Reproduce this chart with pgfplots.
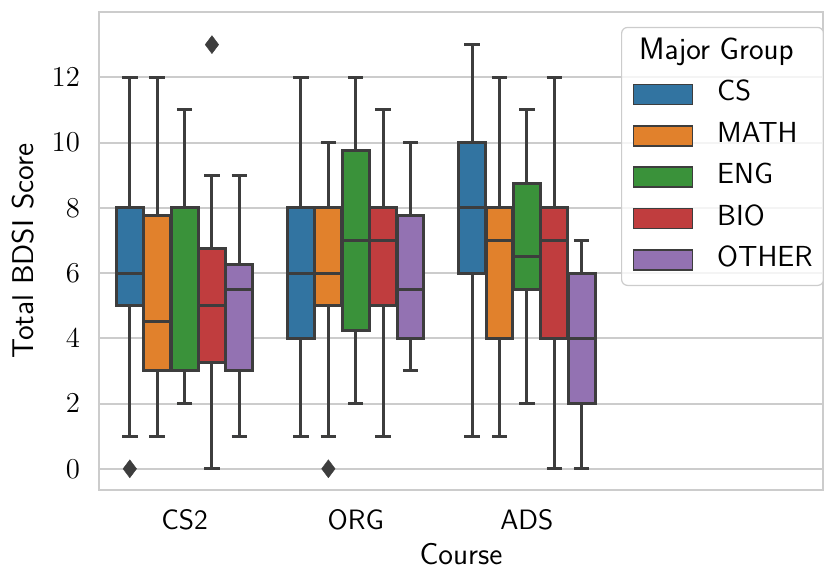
\documentclass[border=0pt]{standalone}
\usepackage{pgfplots}
\pgfplotsset{compat=1.18}
\usepgfplotslibrary{statistics}
\definecolor{cCS}{RGB}{50,116,161}
\definecolor{cMA}{RGB}{225,129,44}
\definecolor{cEN}{RGB}{58,146,58}
\definecolor{cBI}{RGB}{192,61,62}
\definecolor{cOT}{RGB}{147,114,178}
\definecolor{dk}{RGB}{61,61,61}
\definecolor{gr}{RGB}{204,204,204}
\pgfplotsset{
  bx/.style n args={7}{forget plot,
    boxplot prepared={draw direction=y, draw position=#1, lower whisker=#2, lower quartile=#3,
      median=#4, upper quartile=#5, upper whisker=#6,
      box extend=0.157, whisker extend=0.09},
    draw=dk, fill=#7, line width=1.5pt,
    mark=diamond*, mark size=4.5pt, mark options={fill=dk, draw=dk, line width=0.2pt}},
  legbox/.style={legend image code/.code={\draw[##1,draw=dk,line width=0.8pt,sharp corners,fill opacity=1] (0pt,-5pt) rectangle (29.5pt,5pt);}}
}
\begin{document}
\begin{tikzpicture}
\begin{axis}[
  scale only axis, width=362pt, height=239pt,
  at={(0,0)}, anchor=south west,
  xmin=-0.5, xmax=3.73, ymin=-0.65, ymax=14,
  xtick={0,1,2}, xticklabels={CS2,ORG,ADS},
  ytick={0,2,...,12},
  major tick length=0pt,
  ymajorgrids, major grid style={gr, line width=1pt},
  axis line style={gr, line width=1.25pt},
  yticklabel style={font=\fontsize{14}{17}\selectfont, xshift=-6pt},
  xticklabel style={font=\fontsize{14}{17}\selectfont\sffamily, anchor=center, yshift=-15pt},
  ylabel={Total BDSI Score}, xlabel={Course},
  label style={font=\fontsize{15}{18}\selectfont\sffamily},
  ylabel style={at={(axis description cs:-0.105,0.5)}, anchor=center},
  xlabel style={at={(axis description cs:0.5,-0.134)}, anchor=center},
  legend cell align=left,
  legend style={at={(0.721,0.969)}, anchor=north west, draw=gr, line width=0.6pt,
    rounded corners=3pt, fill=white, fill opacity=0.8, text opacity=1,
    font=\fontsize{14.5}{17}\selectfont\sffamily,
    inner xsep=5.5pt, inner ysep=6pt, row sep=7.2pt, column sep=12pt,
    nodes={inner sep=0pt, text height=10pt, text depth=3.5pt}},
]
% CS2
\addplot[bx={-0.32}{1}{5}{6}{8}{12}{cCS}] coordinates {(0,0)};
\addplot[bx={-0.16}{1}{3}{4.5}{7.75}{12}{cMA}] coordinates {};
\addplot[bx={0}{2}{3}{3}{8}{11}{cEN}] coordinates {};
\addplot[bx={0.16}{0}{3.25}{5}{6.75}{9}{cBI}] coordinates {(0,13)};
\addplot[bx={0.32}{1}{3}{5.5}{6.25}{9}{cOT}] coordinates {};
% ORG
\addplot[bx={0.68}{1}{4}{6}{8}{12}{cCS}] coordinates {};
\addplot[bx={0.84}{1}{5}{6}{8}{10}{cMA}] coordinates {(0,0)};
\addplot[bx={1}{2}{4.25}{7}{9.75}{12}{cEN}] coordinates {};
\addplot[bx={1.16}{1}{5}{7}{8}{11}{cBI}] coordinates {};
\addplot[bx={1.32}{3}{4}{5.5}{7.75}{10}{cOT}] coordinates {};
% ADS
\addplot[bx={1.68}{1}{6}{8}{10}{13}{cCS}] coordinates {};
\addplot[bx={1.84}{1}{4}{7}{8}{12}{cMA}] coordinates {};
\addplot[bx={2}{2}{5.5}{6.5}{8.75}{11}{cEN}] coordinates {};
\addplot[bx={2.16}{0}{4}{7}{8}{12}{cBI}] coordinates {};
\addplot[bx={2.32}{0}{2}{4}{6}{7}{cOT}] coordinates {};
% legend
\addlegendimage{empty legend}
\addlegendentry{\hspace*{-39pt}{\fontsize{15.5}{17}\selectfont Major Group}}
\addlegendimage{legbox, fill=cCS}
\addlegendentry{CS}
\addlegendimage{legbox, fill=cMA}
\addlegendentry{MATH}
\addlegendimage{legbox, fill=cEN}
\addlegendentry{ENG}
\addlegendimage{legbox, fill=cBI}
\addlegendentry{BIO}
\addlegendimage{legbox, fill=cOT}
\addlegendentry{OTHER}
\end{axis}
\pgfresetboundingbox
\path[use as bounding box] (-49.5pt,-39.5pt) rectangle (362.5pt,245pt);
\end{tikzpicture}
\end{document}
